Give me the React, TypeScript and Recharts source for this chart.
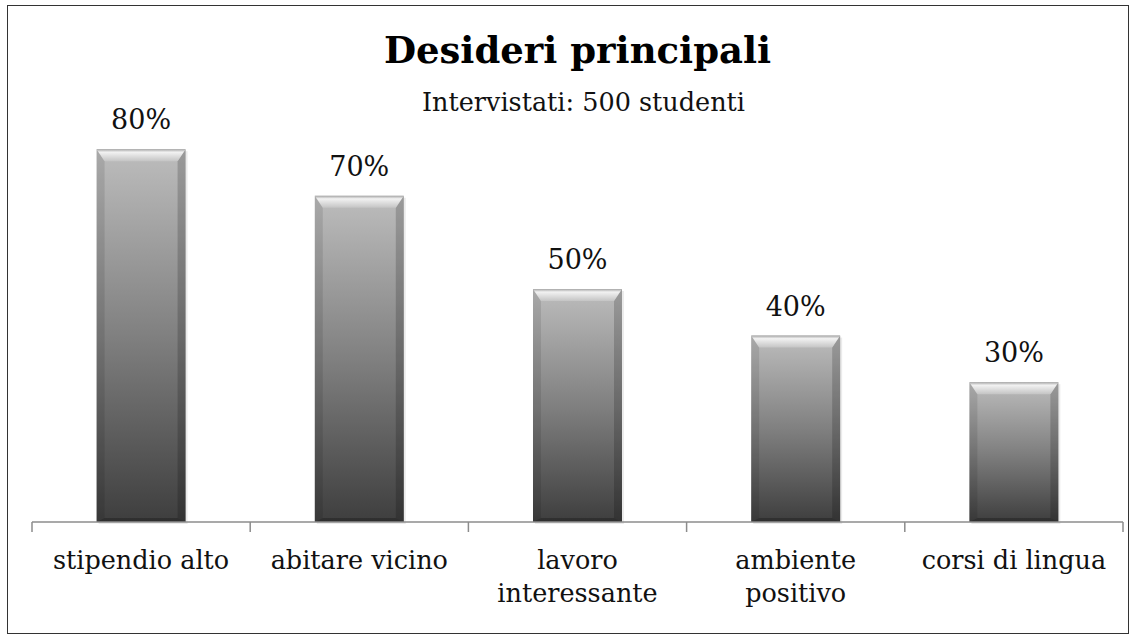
import { BarChart, Bar, XAxis, YAxis, LabelList } from 'recharts'

// categorie (a capo dove l'etichetta va su due righe)
const CATEGORIES = ['stipendio alto', 'abitare vicino', 'lavoro\ninteressante', 'ambiente\npositivo', 'corsi di lingua']
const VALUES = [80, 70, 50, 40, 30]

const TITLE = 'Desideri principali'
const SUBTITLE = 'Intervistati: 500 studenti'

const data = CATEGORIES.map((name, i) => ({ name, value: VALUES[i] }))

const W = 1134
const H = 640
const MARGIN = { top: 56, right: 11, bottom: 0, left: 32 }
const FONT = '"DejaVu Serif", serif'

function BevelBar(props: any) {
  const { x, y, width: w, height: h } = props
  if (!h || h <= 0) return null
  const t = 12 // top bevel
  const s = 8 // side bevel
  const b = 4 // bottom edge
  return (
    <g>
      <rect x={x + 2} y={y + 2} width={w} height={h} fill="#000" opacity={0.08} />
      <rect x={x} y={y} width={w} height={h} fill="url(#barGrad)" />
      <polygon points={`${x},${y} ${x + s},${y + t} ${x + s},${y + h - b} ${x},${y + h}`} fill="#000" opacity={0.1} />
      <polygon points={`${x + w},${y} ${x + w - s},${y + t} ${x + w - s},${y + h - b} ${x + w},${y + h}`} fill="#000" opacity={0.18} />
      <polygon points={`${x},${y + h} ${x + s},${y + h - b} ${x + w - s},${y + h - b} ${x + w},${y + h}`} fill="#000" opacity={0.25} />
      <polygon points={`${x},${y} ${x + w},${y} ${x + w - s},${y + t} ${x + s},${y + t}`} fill="url(#topBevel)" />
    </g>
  )
}

function CategoryTick(props: any) {
  const { x, y, payload, index } = props
  const band = (W - MARGIN.left - MARGIN.right) / data.length
  const left = x - band / 2
  const lines = String(payload.value).split('\n')
  return (
    <g>
      <line x1={left} y1={y} x2={left} y2={y + 10} stroke="#8c8c8c" strokeWidth={1.5} />
      {index === data.length - 1 && (
        <line x1={left + band} y1={y} x2={left + band} y2={y + 10} stroke="#8c8c8c" strokeWidth={1.5} />
      )}
      <text x={x} y={y + 47} textAnchor="middle" fontFamily={FONT} fontSize={25.5} fill="#111">
        {lines.map((l, i) => (
          <tspan key={i} x={x} dy={i === 0 ? 0 : 33}>{l}</tspan>
        ))}
      </text>
    </g>
  )
}

export default function App() {
  return (
    <div style={{ position: 'absolute', left: 0, top: 0, width: W, height: H, background: '#fff' }}>
      <div style={{ position: 'absolute', left: 7, top: 5, width: 1120, height: 627, border: '1.5px solid #333' }} />
      <div style={{ position: 'absolute', left: MARGIN.left, width: W - MARGIN.left - MARGIN.right, top: 27, textAlign: 'center', fontFamily: FONT, fontWeight: 'bold', fontSize: 37, color: '#000', lineHeight: '46px' }}>
        {TITLE}
      </div>
      <div style={{ position: 'absolute', left: MARGIN.left + 6, width: W - MARGIN.left - MARGIN.right, top: 86, textAlign: 'center', fontFamily: FONT, fontSize: 25.5, color: '#111', lineHeight: '32px' }}>
        {SUBTITLE}
      </div>
      <BarChart width={W} height={H} data={data} margin={MARGIN} barCategoryGap="29.6%">
        <defs>
          <linearGradient id="barGrad" x1="0" y1="0" x2="0" y2="1">
            <stop offset="0%" stopColor="#bdbdbd" />
            <stop offset="50%" stopColor="#808080" />
            <stop offset="100%" stopColor="#3e3e3e" />
          </linearGradient>
          <linearGradient id="topBevel" x1="0" y1="0" x2="0" y2="1">
            <stop offset="0%" stopColor="#a5a5a5" />
            <stop offset="25%" stopColor="#f2f2f2" />
            <stop offset="100%" stopColor="#c4c4c4" />
          </linearGradient>
        </defs>
        <YAxis hide domain={[0, 100]} />
        <XAxis
          dataKey="name"
          height={H - 522}
          interval={0}
          tickSize={0}
          tickMargin={0}
          tickLine={false}
          axisLine={{ stroke: '#8c8c8c', strokeWidth: 1.5 }}
          tick={<CategoryTick />}
        />
        <Bar dataKey="value" shape={<BevelBar />} isAnimationActive={false}>
          <LabelList
            dataKey="value"
            position="top"
            offset={20}
            formatter={(v: any) => `${v}%`}
            style={{ fontFamily: FONT, fontSize: 27, fill: '#111' }}
          />
        </Bar>
      </BarChart>
    </div>
  )
}
